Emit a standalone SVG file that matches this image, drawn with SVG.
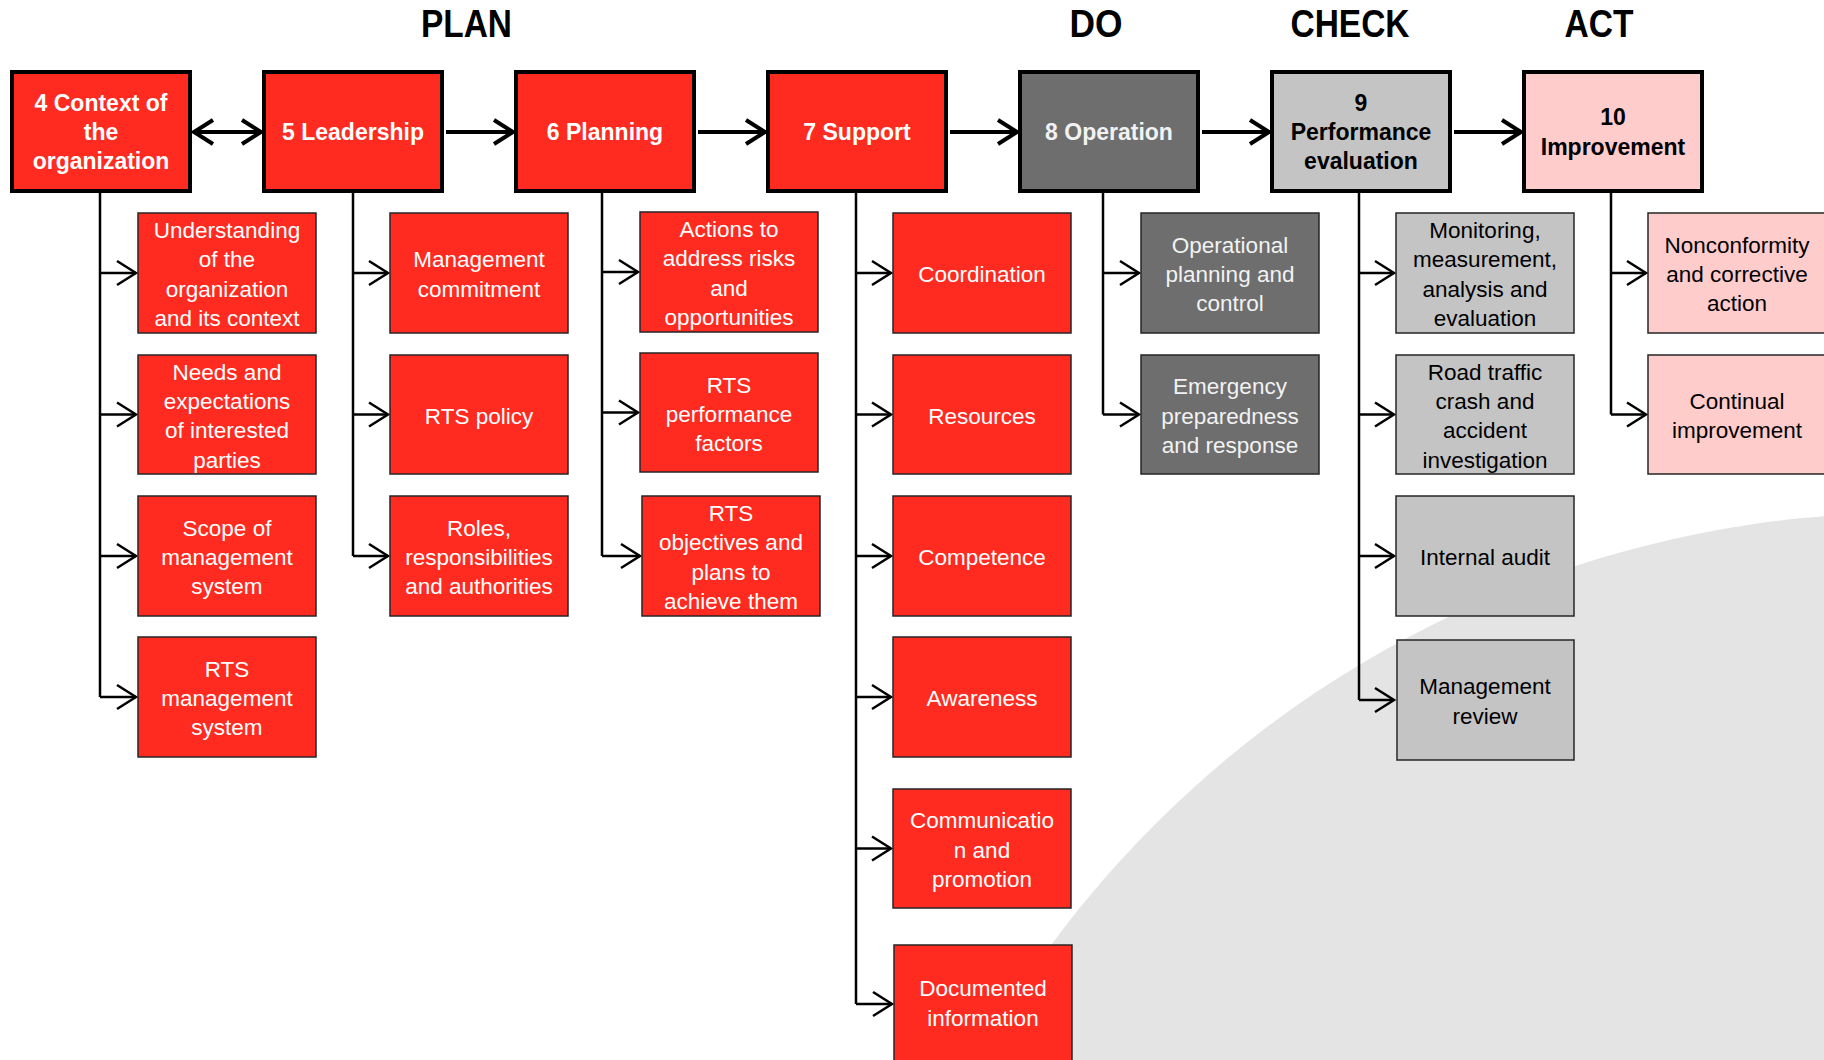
<svg xmlns="http://www.w3.org/2000/svg" width="1824" height="1060" viewBox="0 0 1824 1060">
<style>
.top{stroke:#000;stroke-width:4}
.sub{stroke:#262626;stroke-width:1.5}
.red{fill:#ff2a20}.dk{fill:#6e6e6e}.lt{fill:#c4c4c4}.pk{fill:#ffcccc}
.tb{font-family:"Liberation Sans",Arial,sans-serif;font-weight:bold;font-size:23px;text-anchor:middle}
.ts{font-family:"Liberation Sans",Arial,sans-serif;font-size:22.5px;text-anchor:middle}
.w{fill:#fff}.g{fill:#f2f2f2}.k{fill:#000}
.title{font-family:"Liberation Sans",Arial,sans-serif;font-weight:bold;font-size:39px;text-anchor:middle;fill:#000}
.trunk{stroke:#000;stroke-width:2.5;fill:none}
.br{stroke:#000;stroke-width:2.5;fill:none;marker-end:url(#as)}
.mn{stroke:#000;stroke-width:4;fill:none;marker-end:url(#al)}
</style>
<defs>
<marker id="as" markerUnits="userSpaceOnUse" markerWidth="30" markerHeight="30" refX="21" refY="14" orient="auto" overflow="visible">
<path d="M2,2 L21,14 L2,26" fill="none" stroke="#000" stroke-width="2.5"/>
</marker>
<marker id="al" markerUnits="userSpaceOnUse" markerWidth="30" markerHeight="30" refX="21" refY="14" orient="auto-start-reverse" overflow="visible">
<path d="M2,2 L21,14 L2,26" fill="none" stroke="#000" stroke-width="4"/>
</marker>
</defs>
<rect width="1824" height="1060" fill="#fff"/>
<circle id="bg-arc" cx="1907" cy="1577" r="1064" fill="#e4e4e4"/>

<g id="titles">
<text class="title" x="466.5" y="37" textLength="91" lengthAdjust="spacingAndGlyphs">PLAN</text>
<text class="title" x="1096" y="37" textLength="53" lengthAdjust="spacingAndGlyphs">DO</text>
<text class="title" x="1350" y="37" textLength="119" lengthAdjust="spacingAndGlyphs">CHECK</text>
<text class="title" x="1599" y="37" textLength="69" lengthAdjust="spacingAndGlyphs">ACT</text>
</g>

<g id="connectors">
<path class="mn" d="M194,132 H261" marker-start="url(#al)"/>
<path class="mn" d="M446,132 H513"/>
<path class="mn" d="M698,132 H765"/>
<path class="mn" d="M950,132 H1017"/>
<path class="mn" d="M1202,132 H1269"/>
<path class="mn" d="M1454,132 H1521"/>

<path class="trunk" d="M100,193 V697"/>
<path class="br" d="M100,273 H136"/>
<path class="br" d="M100,414.5 H136"/>
<path class="br" d="M100,556 H136"/>
<path class="br" d="M100,697 H136"/>

<path class="trunk" d="M353,193 V556"/>
<path class="br" d="M353,273 H388"/>
<path class="br" d="M353,414.5 H388"/>
<path class="br" d="M353,556 H388"/>

<path class="trunk" d="M602,193 V556"/>
<path class="br" d="M602,272 H638"/>
<path class="br" d="M602,412.5 H638"/>
<path class="br" d="M602,556 H640"/>

<path class="trunk" d="M856,193 V1004"/>
<path class="br" d="M856,273 H891"/>
<path class="br" d="M856,414.5 H891"/>
<path class="br" d="M856,556 H891"/>
<path class="br" d="M856,697 H891"/>
<path class="br" d="M856,848.5 H891"/>
<path class="br" d="M856,1004 H892"/>

<path class="trunk" d="M1103,193 V414.5"/>
<path class="br" d="M1103,273 H1139"/>
<path class="br" d="M1103,414.5 H1139"/>

<path class="trunk" d="M1359,193 V700"/>
<path class="br" d="M1359,273 H1394"/>
<path class="br" d="M1359,414.5 H1394"/>
<path class="br" d="M1359,556 H1394"/>
<path class="br" d="M1359,700 H1394"/>

<path class="trunk" d="M1611,193 V414.5"/>
<path class="br" d="M1611,273 H1646"/>
<path class="br" d="M1611,414.5 H1646"/>
</g>

<g id="n4">
<rect class="top red" x="12" y="72" width="178" height="119"/>
<text class="tb w"><tspan x="101" y="110.7">4 Context of</tspan><tspan x="101" y="140">the</tspan><tspan x="101" y="169.3">organization</tspan></text>
</g>
<g id="n5">
<rect class="top red" x="264" y="72" width="178" height="119"/>
<text class="tb w" x="353" y="140">5 Leadership</text>
</g>
<g id="n6">
<rect class="top red" x="516" y="72" width="178" height="119"/>
<text class="tb w" x="605" y="140">6 Planning</text>
</g>
<g id="n7">
<rect class="top red" x="768" y="72" width="178" height="119"/>
<text class="tb w" x="857" y="140">7 Support</text>
</g>
<g id="n8">
<rect class="top dk" x="1020" y="72" width="178" height="119"/>
<text class="tb g" x="1109" y="140">8 Operation</text>
</g>
<g id="n9">
<rect class="top lt" x="1272" y="72" width="178" height="119"/>
<text class="tb k"><tspan x="1361" y="110.7">9</tspan><tspan x="1361" y="140">Performance</tspan><tspan x="1361" y="169.3">evaluation</tspan></text>
</g>
<g id="n10">
<rect class="top pk" x="1524" y="72" width="178" height="119"/>
<text class="tb k"><tspan x="1613" y="125.3">10</tspan><tspan x="1613" y="154.6">Improvement</tspan></text>
</g>

<g id="n4-1"><rect class="sub red" x="138" y="213" width="178" height="120"/>
<text class="ts w"><tspan x="227" y="238.1">Understanding</tspan><tspan x="227" y="267.4">of the</tspan><tspan x="227" y="296.7">organization</tspan><tspan x="227" y="326">and its context</tspan></text></g>
<g id="n4-2"><rect class="sub red" x="138" y="355" width="178" height="119"/>
<text class="ts w"><tspan x="227" y="379.5">Needs and</tspan><tspan x="227" y="408.9">expectations</tspan><tspan x="227" y="438.2">of interested</tspan><tspan x="227" y="467.5">parties</tspan></text></g>
<g id="n4-3"><rect class="sub red" x="138" y="496" width="178" height="120"/>
<text class="ts w"><tspan x="227" y="535.7">Scope of</tspan><tspan x="227" y="565">management</tspan><tspan x="227" y="594.3">system</tspan></text></g>
<g id="n4-4"><rect class="sub red" x="138" y="637" width="178" height="120"/>
<text class="ts w"><tspan x="227" y="676.7">RTS</tspan><tspan x="227" y="706">management</tspan><tspan x="227" y="735.3">system</tspan></text></g>

<g id="n5-1"><rect class="sub red" x="390" y="213" width="178" height="120"/>
<text class="ts w"><tspan x="479" y="267.4">Management</tspan><tspan x="479" y="296.7">commitment</tspan></text></g>
<g id="n5-2"><rect class="sub red" x="390" y="355" width="178" height="119"/>
<text class="ts w" x="479" y="423.5">RTS policy</text></g>
<g id="n5-3"><rect class="sub red" x="390" y="496" width="178" height="120"/>
<text class="ts w"><tspan x="479" y="535.7">Roles,</tspan><tspan x="479" y="565">responsibilities</tspan><tspan x="479" y="594.3">and authorities</tspan></text></g>

<g id="n6-1"><rect class="sub red" x="640" y="212" width="178" height="120"/>
<text class="ts w"><tspan x="729" y="237.1">Actions to</tspan><tspan x="729" y="266.4">address risks</tspan><tspan x="729" y="295.7">and</tspan><tspan x="729" y="325">opportunities</tspan></text></g>
<g id="n6-2"><rect class="sub red" x="640" y="353" width="178" height="119"/>
<text class="ts w"><tspan x="729" y="392.7">RTS</tspan><tspan x="729" y="422">performance</tspan><tspan x="729" y="451.3">factors</tspan></text></g>
<g id="n6-3"><rect class="sub red" x="642" y="496" width="178" height="120"/>
<text class="ts w"><tspan x="731" y="521.1">RTS</tspan><tspan x="731" y="550.4">objectives and</tspan><tspan x="731" y="579.7">plans to</tspan><tspan x="731" y="609">achieve them</tspan></text></g>

<g id="n7-1"><rect class="sub red" x="893" y="213" width="178" height="120"/>
<text class="ts w" x="982" y="282">Coordination</text></g>
<g id="n7-2"><rect class="sub red" x="893" y="355" width="178" height="119"/>
<text class="ts w" x="982" y="423.5">Resources</text></g>
<g id="n7-3"><rect class="sub red" x="893" y="496" width="178" height="120"/>
<text class="ts w" x="982" y="565">Competence</text></g>
<g id="n7-4"><rect class="sub red" x="893" y="637" width="178" height="120"/>
<text class="ts w" x="982" y="706">Awareness</text></g>
<g id="n7-5"><rect class="sub red" x="893" y="789" width="178" height="119"/>
<text class="ts w"><tspan x="982" y="828.2">Communicatio</tspan><tspan x="982" y="857.5">n and</tspan><tspan x="982" y="886.8">promotion</tspan></text></g>
<g id="n7-6"><rect class="sub red" x="894" y="945" width="178" height="122"/>
<text class="ts w"><tspan x="983" y="996.4">Documented</tspan><tspan x="983" y="1025.7">information</tspan></text></g>

<g id="n8-1"><rect class="sub dk" x="1141" y="213" width="178" height="120"/>
<text class="ts g"><tspan x="1230" y="252.7">Operational</tspan><tspan x="1230" y="282">planning and</tspan><tspan x="1230" y="311.3">control</tspan></text></g>
<g id="n8-2"><rect class="sub dk" x="1141" y="355" width="178" height="119"/>
<text class="ts g"><tspan x="1230" y="394.2">Emergency</tspan><tspan x="1230" y="423.5">preparedness</tspan><tspan x="1230" y="452.8">and response</tspan></text></g>

<g id="n9-1"><rect class="sub lt" x="1396" y="213" width="178" height="120"/>
<text class="ts k"><tspan x="1485" y="238.1">Monitoring,</tspan><tspan x="1485" y="267.4">measurement,</tspan><tspan x="1485" y="296.7">analysis and</tspan><tspan x="1485" y="326">evaluation</tspan></text></g>
<g id="n9-2"><rect class="sub lt" x="1396" y="355" width="178" height="119"/>
<text class="ts k"><tspan x="1485" y="379.5">Road traffic</tspan><tspan x="1485" y="408.9">crash and</tspan><tspan x="1485" y="438.2">accident</tspan><tspan x="1485" y="467.5">investigation</tspan></text></g>
<g id="n9-3"><rect class="sub lt" x="1396" y="496" width="178" height="120"/>
<text class="ts k" x="1485" y="565">Internal audit</text></g>
<g id="n9-4"><rect class="sub lt" x="1397" y="640" width="177" height="120"/>
<text class="ts k"><tspan x="1485" y="694.4">Management</tspan><tspan x="1485" y="723.7">review</tspan></text></g>

<g id="n10-1"><rect class="sub pk" x="1648" y="213" width="180" height="120"/>
<text class="ts k"><tspan x="1737" y="252.7">Nonconformity</tspan><tspan x="1737" y="282">and corrective</tspan><tspan x="1737" y="311.3">action</tspan></text></g>
<g id="n10-2"><rect class="sub pk" x="1648" y="355" width="180" height="119"/>
<text class="ts k"><tspan x="1737" y="408.9">Continual</tspan><tspan x="1737" y="438.2">improvement</tspan></text></g>
</svg>
